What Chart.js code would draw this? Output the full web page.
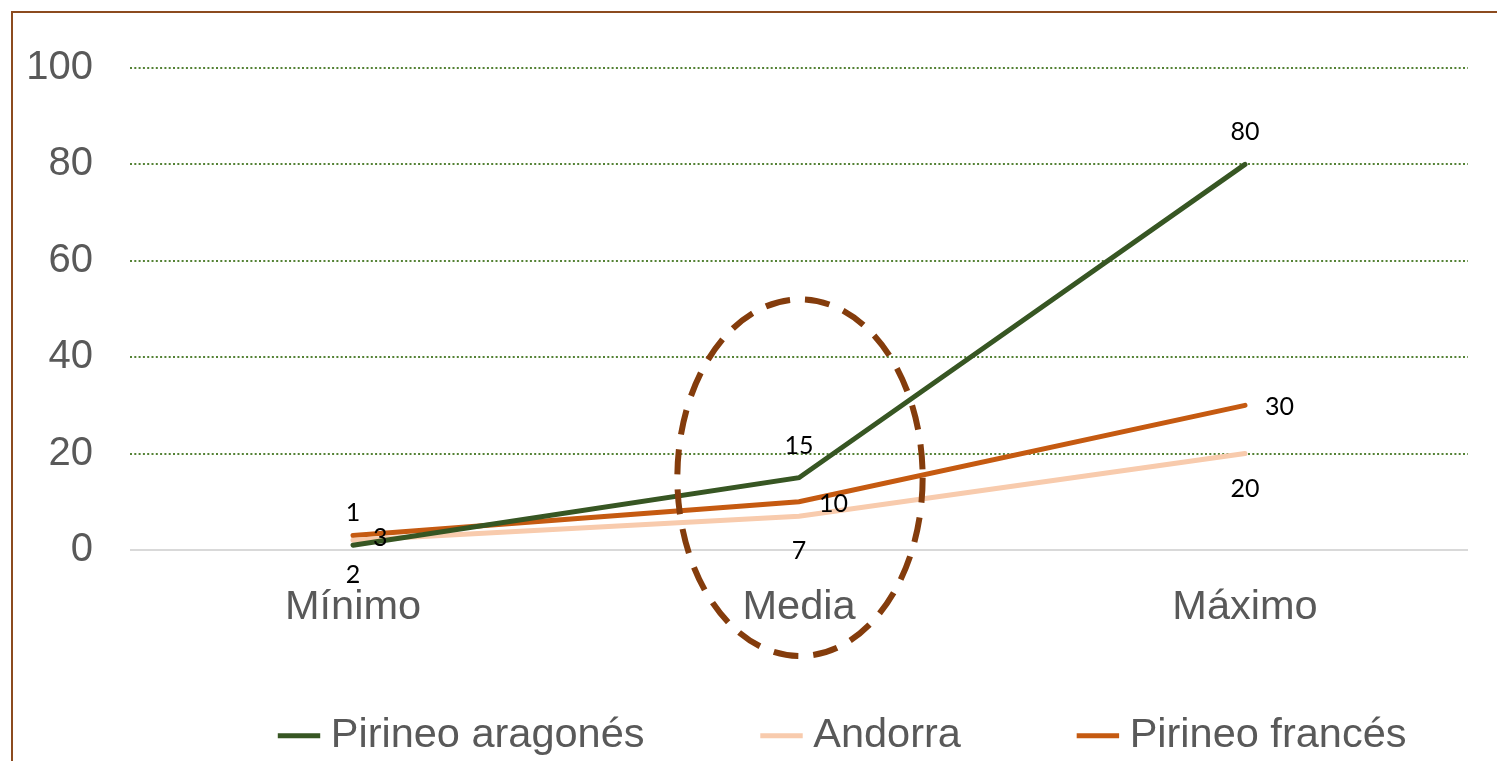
<!DOCTYPE html>
<html lang="es">
<head>
<meta charset="utf-8">
<title>Pirineo</title>
<script src="https://cdn.jsdelivr.net/npm/chart.js@4.4.1/dist/chart.umd.min.js"></script>
<style>
  html, body { margin: 0; padding: 0; background: #fff; overflow: hidden; }
  canvas { display: block; }
</style>
</head>
<body>
<canvas id="grafico" width="1497" height="761"></canvas>
<script>
'use strict';

var categorias      = ['Mínimo', 'Media', 'Máximo'];
var pirineoAragones = [1, 15, 80];
var andorra         = [2, 7, 20];
var pirineoFrances  = [3, 10, 30];
var ticksY          = [0, 20, 40, 60, 80, 100];

var gris   = '#595959';
var fuente = "'Liberation Sans', Arial, sans-serif";

// marco marrón del gráfico (sólo asoman los lados superior e izquierdo)
var marco = {
    id: 'marco',
    beforeDraw: function (chart) {
        var ctx = chart.ctx;
        ctx.save();
        ctx.strokeStyle = '#8c4b1f';
        ctx.lineWidth = 2;
        ctx.beginPath();
        ctx.moveTo(12, chart.height);
        ctx.lineTo(12, 12);
        ctx.lineTo(chart.width, 12);
        ctx.stroke();
        ctx.restore();
    }
};

// elipse discontinua alrededor de la media
var elipse = {
    id: 'elipse',
    afterDatasetsDraw: function (chart) {
        var x = chart.scales.x, y = chart.scales.y, ctx = chart.ctx;
        var cx = x.getPixelForValue(1);
        var cy = y.getPixelForValue(15);
        var rx = x.getPixelForValue(1.275) - cx;
        var ry = cy - y.getPixelForValue(52);
        ctx.save();
        ctx.strokeStyle = '#843c0c';
        ctx.lineWidth = 6;
        ctx.setLineDash([25, 15]);
        ctx.beginPath();
        ctx.ellipse(cx + 1, cy, rx, ry, 0, 0, Math.PI * 2);
        ctx.stroke();
        ctx.restore();
    }
};

// etiquetas de valor: arriba, a la derecha o debajo del punto
var etiquetas = {
    id: 'etiquetas',
    afterDraw: function (chart) {
        var ctx = chart.ctx;
        ctx.save();
        ctx.font = '25px Lato, sans-serif';
        ctx.fillStyle = '#000';
        ctx.textBaseline = 'alphabetic';
        chart.data.datasets.forEach(function (ds, i) {
            chart.getDatasetMeta(i).data.forEach(function (pt, j) {
                var txt = String(ds.data[j]);
                if (ds.etiqueta === 'arriba') {
                    ctx.textAlign = 'center';
                    ctx.fillText(txt, pt.x, pt.y - 24);
                } else if (ds.etiqueta === 'derecha') {
                    ctx.textAlign = 'left';
                    ctx.fillText(txt, pt.x + 20, pt.y + 10);
                } else {
                    ctx.textAlign = 'center';
                    ctx.fillText(txt, pt.x, pt.y + 43);
                }
            });
        });
        ctx.restore();
    }
};

// la leyenda va desplazada respecto al área del gráfico
var leyenda = {
    id: 'leyenda',
    afterLayout: function (chart) {
        var l = chart.legend;
        l.left = 162;
        l.right = 1700;
        l.width = l.right - l.left;
        l.top = 589;
        l.bottom = 800;
        l.height = l.bottom - l.top;
    }
};

var linea = function (label, data, color, etiqueta) {
    return {
        label          : label,
        data           : data,
        borderColor    : color,
        backgroundColor: color,
        borderWidth    : 5,
        borderCapStyle : 'round',
        pointRadius    : 0,
        tension        : 0,
        etiqueta       : etiqueta
    };
};

new Chart(document.getElementById('grafico'), {
    type: 'line',
    data: {
        labels  : categorias,
        datasets: [
            linea('Pirineo aragonés', pirineoAragones, '#375623', 'arriba'),
            linea('Andorra', andorra, '#f8cbad', 'debajo'),
            linea('Pirineo francés', pirineoFrances, '#c55a11', 'derecha')
        ]
    },
    options: {
        responsive: false,
        animation : false,
        layout    : { padding: { top: 68, right: 29, bottom: 0, left: 0 } },
        plugins   : {
            tooltip: { enabled: false },
            legend : {
                position : 'bottom',
                align    : 'start',
                maxHeight: 60,
                labels   : {
                    usePointStyle: true,
                    pointStyle   : 'line',
                    boxWidth     : 22,
                    boxHeight    : 30,
                    padding      : 126,
                    color        : gris,
                    font         : { family: fuente, size: 41.5 }
                }
            }
        },
        scales: {
            x: {
                offset: true,
                grid  : { display: false },
                border: { display: false },
                ticks : { color: gris, padding: 25, font: { family: fuente, size: 41.5 } },
                afterFit: function (scale) { scale.height = 151; }
            },
            y: {
                min   : 0,
                max   : 100,
                border: {
                    display: false,
                    dash   : function (c) { return c.tick && c.tick.value === 0 ? [] : [2, 2.3]; }
                },
                grid: {
                    drawTicks: false,
                    color    : function (c) { return c.tick && c.tick.value === 0 ? '#d9d9d9' : '#548235'; },
                    lineWidth: 2
                },
                ticks: { color: gris, padding: 37, font: { family: fuente, size: 40 } },
                afterBuildTicks: function (scale) {
                    scale.ticks = ticksY.map(function (v) { return { value: v }; });
                },
                afterFit: function (scale) { scale.width = 130; }
            }
        }
    },
    plugins: [marco, elipse, etiquetas, leyenda]
});
</script>
</body>
</html>
